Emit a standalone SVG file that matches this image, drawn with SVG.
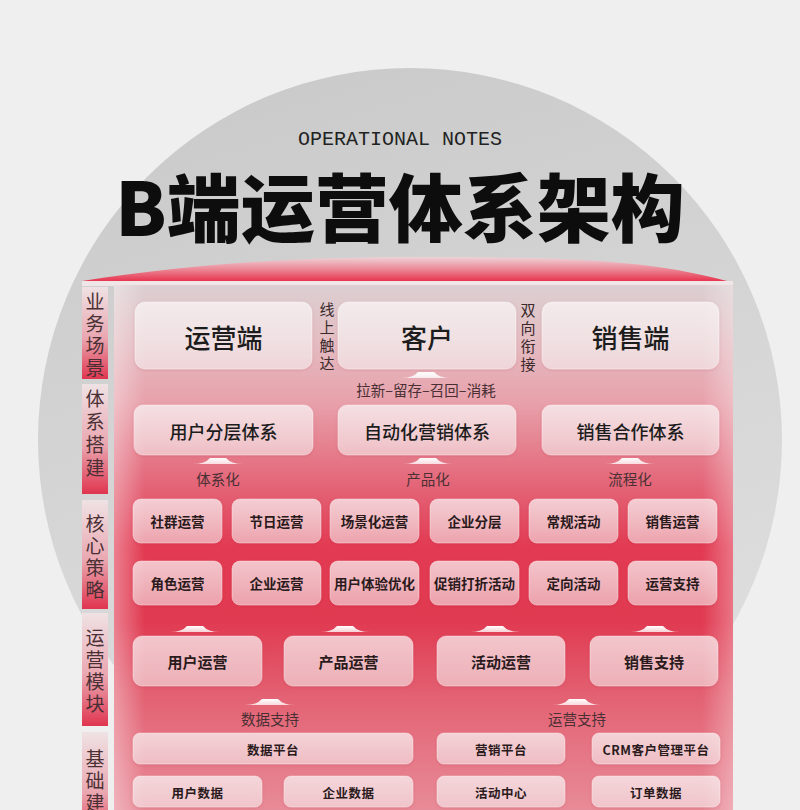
<svg xmlns="http://www.w3.org/2000/svg" width="800" height="810" viewBox="0 0 800 810">
<defs>
<linearGradient id="gCircle" x1="0" y1="0" x2="0.3" y2="1">
<stop offset="0" stop-color="#c8c8c8"/>
<stop offset="0.6" stop-color="#d6d6d6"/>
<stop offset="1" stop-color="#dedede"/>
</linearGradient>
<linearGradient id="gRoof" x1="0" y1="257" x2="0" y2="281" gradientUnits="userSpaceOnUse">
<stop offset="0" stop-color="#eed3d7"/>
<stop offset="0.5" stop-color="#ec8a98"/>
<stop offset="1" stop-color="#e6354f"/>
</linearGradient>
<linearGradient id="gPanel" x1="0" y1="285" x2="0" y2="810" gradientUnits="userSpaceOnUse">
<stop offset="0" stop-color="#dccfd1"/>
<stop offset="0.09" stop-color="#e3c0c5"/>
<stop offset="0.22" stop-color="#e8a2ac"/>
<stop offset="0.37" stop-color="#e4697b"/>
<stop offset="0.5" stop-color="#e23a52"/>
<stop offset="0.64" stop-color="#e03a51"/>
<stop offset="0.79" stop-color="#e36374"/>
<stop offset="1" stop-color="#e88b98"/>
</linearGradient>
<linearGradient id="gPanelSide" x1="0" y1="0" x2="1" y2="0">
<stop offset="0" stop-color="#ffffff" stop-opacity="0.35"/>
<stop offset="0.05" stop-color="#ffffff" stop-opacity="0"/>
<stop offset="0.95" stop-color="#ffffff" stop-opacity="0"/>
<stop offset="1" stop-color="#ffffff" stop-opacity="0.3"/>
</linearGradient>
<linearGradient id="gSide" x1="0" y1="0" x2="0" y2="1">
<stop offset="0" stop-color="#efe2e4"/>
<stop offset="0.55" stop-color="#eaa7b1"/>
<stop offset="1" stop-color="#e0354f"/>
</linearGradient>
<linearGradient id="gBox" x1="0" y1="0" x2="0" y2="1">
<stop offset="0" stop-color="#ffffff" stop-opacity="0.68"/>
<stop offset="1" stop-color="#ffffff" stop-opacity="0.5"/>
</linearGradient>
<linearGradient id="gArrow" x1="0" y1="0" x2="0" y2="1">
<stop offset="0" stop-color="#ffffff" stop-opacity="1"/>
<stop offset="1" stop-color="#ffffff" stop-opacity="0.75"/>
</linearGradient>
<filter id="shadow" x="-10%" y="-20%" width="120%" height="150%">
<feDropShadow dx="0" dy="1" stdDeviation="1.5" flood-color="#9a1f32" flood-opacity="0.25"/>
</filter>
<path id="arrow" d="M-25,6 Q-13,6 -8,0 L8,0 Q13,6 25,6 Z"/>
</defs>
<style>
.box{fill:url(#gBox);stroke:#ffffff;stroke-opacity:0.35;stroke-width:1;filter:url(#shadow);}
.side{fill:url(#gSide);}
.sidet{font-family:'Noto Sans CJK SC',sans-serif;font-size:19px;fill:#4a3034;writing-mode:vertical-rl;letter-spacing:3px;}
.t1{font-family:'Noto Sans CJK SC',sans-serif;font-size:26px;font-weight:500;fill:#1c1c1c;text-anchor:middle;dominant-baseline:central;}
.t2{font-family:'Noto Sans CJK SC',sans-serif;font-size:18px;font-weight:500;fill:#1c1c1c;text-anchor:middle;dominant-baseline:central;}
.t3{font-family:'Noto Sans CJK SC',sans-serif;font-size:13.5px;font-weight:700;fill:#2a1a1c;text-anchor:middle;dominant-baseline:central;}
.t5{font-family:'Noto Sans CJK SC',sans-serif;font-size:15px;font-weight:700;fill:#2a1a1c;text-anchor:middle;dominant-baseline:central;}
.t6{font-family:'Noto Sans CJK SC',sans-serif;font-size:12.5px;font-weight:700;fill:#2a1a1c;text-anchor:middle;dominant-baseline:central;letter-spacing:0.5px;}
.lab{font-family:'Noto Sans CJK SC',sans-serif;font-size:14.5px;fill:#4a3034;text-anchor:middle;dominant-baseline:central;}
.vlab{font-family:'Noto Sans CJK SC',sans-serif;font-size:15px;fill:#3a2a2c;writing-mode:vertical-rl;letter-spacing:3px;}
.arr{fill:url(#gArrow);}
</style>

<rect x="0" y="0" width="800" height="810" fill="#efefef"/>
<circle cx="410" cy="440" r="372" fill="url(#gCircle)"/>

<g id="header">
<text x="400" y="145" font-family="'Liberation Mono','DejaVu Sans Mono',monospace" font-size="20" fill="#222222" text-anchor="middle">OPERATIONAL NOTES</text>
<text x="400" y="236" font-family="'Noto Sans CJK SC','Noto Sans',sans-serif" font-size="74" font-weight="900" fill="#0d0d0d" text-anchor="middle">B端运营体系架构</text>
</g>

<g id="frame">
<path d="M82,281 C200,263 300,257 420,257 C560,257 645,259 727,281 Z" fill="url(#gRoof)"/>
<rect x="82" y="281" width="651" height="5" fill="#f0e5e7"/>
<rect x="114" y="285" width="619" height="530" fill="url(#gPanel)"/>
<rect x="114" y="285" width="619" height="530" fill="url(#gPanelSide)"/>
</g>

<g id="sidebar">
<g id="side-1"><rect class="side" x="82" y="287" width="26" height="92"/>
<text class="sidet" x="95" y="292">业务场景</text></g>
<g id="side-2"><rect class="side" x="82" y="384" width="26" height="110"/>
<text class="sidet" x="95" y="389" style="letter-spacing:4px">体系搭建</text></g>
<g id="side-3"><rect class="side" x="82" y="500" width="26" height="109"/>
<text class="sidet" x="95" y="514">核心策略</text></g>
<g id="side-4"><rect class="side" x="82" y="613" width="26" height="113"/>
<text class="sidet" x="95" y="628">运营模块</text></g>
<g id="side-5"><rect class="side" x="82" y="732" width="26" height="110"/>
<text class="sidet" x="95" y="749">基础建</text></g>
</g>

<g id="connectors">
<use href="#arrow" class="arr" x="426" y="372"/>
<use href="#arrow" class="arr" x="218" y="458"/>
<use href="#arrow" class="arr" x="428" y="458"/>
<use href="#arrow" class="arr" x="630" y="458"/>
<use href="#arrow" class="arr" x="195" y="626"/>
<use href="#arrow" class="arr" x="345" y="626"/>
<use href="#arrow" class="arr" x="495" y="626"/>
<use href="#arrow" class="arr" x="655" y="626"/>
<use href="#arrow" class="arr" x="270" y="699"/>
<use href="#arrow" class="arr" x="577" y="699"/>
<text class="vlab" x="327" y="302">线上触达</text>
<text class="vlab" x="528" y="303">双向衔接</text>
<text class="lab" x="426" y="389">拉新–留存–召回–消耗</text>
<text class="lab" x="218" y="478">体系化</text>
<text class="lab" x="428" y="478">产品化</text>
<text class="lab" x="630" y="478">流程化</text>
<text class="lab" x="270" y="718">数据支持</text>
<text class="lab" x="577" y="718">运营支持</text>
</g>

<g id="n-yunyingduan"><rect class="box" x="135" y="302" width="177" height="67" rx="10"/><text class="t1" x="223.5" y="336">运营端</text></g>
<g id="n-kehu"><rect class="box" x="338" y="302" width="178" height="67" rx="10"/><text class="t1" x="427" y="336">客户</text></g>
<g id="n-xiaoshouduan"><rect class="box" x="542" y="302" width="177" height="67" rx="10"/><text class="t1" x="630.5" y="336">销售端</text></g>

<g id="n-yonghufenceng"><rect class="box" x="134" y="405" width="179" height="50" rx="9"/><text class="t2" x="223.5" y="431">用户分层体系</text></g>
<g id="n-zidonghua"><rect class="box" x="338" y="405" width="178" height="50" rx="9"/><text class="t2" x="427" y="431">自动化营销体系</text></g>
<g id="n-xiaoshouhezuo"><rect class="box" x="542" y="405" width="177" height="50" rx="9"/><text class="t2" x="630.5" y="431">销售合作体系</text></g>

<g id="n-shequn"><rect class="box" x="133" y="499" width="89" height="44" rx="8"/><text class="t3" x="177.5" y="521">社群运营</text></g>
<g id="n-jieri"><rect class="box" x="232" y="499" width="89" height="44" rx="8"/><text class="t3" x="276.5" y="521">节日运营</text></g>
<g id="n-changjinghua"><rect class="box" x="330" y="499" width="89" height="44" rx="8"/><text class="t3" x="374.5" y="521">场景化运营</text></g>
<g id="n-qiyefenceng"><rect class="box" x="430" y="499" width="89" height="44" rx="8"/><text class="t3" x="474.5" y="521">企业分层</text></g>
<g id="n-changgui"><rect class="box" x="529" y="499" width="89" height="44" rx="8"/><text class="t3" x="573.5" y="521">常规活动</text></g>
<g id="n-xiaoshouyunying"><rect class="box" x="628" y="499" width="89" height="44" rx="8"/><text class="t3" x="672.5" y="521">销售运营</text></g>

<g id="n-juese"><rect class="box" x="133" y="561" width="89" height="44" rx="8"/><text class="t3" x="177.5" y="583">角色运营</text></g>
<g id="n-qiyeyunying"><rect class="box" x="232" y="561" width="89" height="44" rx="8"/><text class="t3" x="276.5" y="583">企业运营</text></g>
<g id="n-tiyan"><rect class="box" x="330" y="561" width="89" height="44" rx="8"/><text class="t3" x="374.5" y="583">用户体验优化</text></g>
<g id="n-cuxiao"><rect class="box" x="430" y="561" width="89" height="44" rx="8"/><text class="t3" x="474.5" y="583">促销打折活动</text></g>
<g id="n-dingxiang"><rect class="box" x="529" y="561" width="89" height="44" rx="8"/><text class="t3" x="573.5" y="583">定向活动</text></g>
<g id="n-yunyingzhichi"><rect class="box" x="628" y="561" width="89" height="44" rx="8"/><text class="t3" x="672.5" y="583">运营支持</text></g>

<g id="n-yonghuyunying"><rect class="box" x="133" y="636" width="129" height="50" rx="9"/><text class="t5" x="197.5" y="661">用户运营</text></g>
<g id="n-chanpinyunying"><rect class="box" x="284" y="636" width="129" height="50" rx="9"/><text class="t5" x="348.5" y="661">产品运营</text></g>
<g id="n-huodongyunying"><rect class="box" x="437" y="636" width="128" height="50" rx="9"/><text class="t5" x="501" y="661">活动运营</text></g>
<g id="n-xiaoshouzhichi"><rect class="box" x="590" y="636" width="128" height="50" rx="9"/><text class="t5" x="654" y="661">销售支持</text></g>

<g id="n-shujupingtai"><rect class="box" x="133" y="733" width="280" height="31" rx="7"/><text class="t6" x="273" y="749">数据平台</text></g>
<g id="n-yingxiaopingtai"><rect class="box" x="437" y="733" width="128" height="31" rx="7"/><text class="t6" x="501" y="749">营销平台</text></g>
<g id="n-crm"><rect class="box" x="592" y="733" width="128" height="31" rx="7"/><text class="t6" x="656" y="749">CRM客户管理平台</text></g>

<g id="n-yonghushuju"><rect class="box" x="133" y="776" width="129" height="31" rx="7"/><text class="t6" x="197.5" y="792">用户数据</text></g>
<g id="n-qiyeshuju"><rect class="box" x="284" y="776" width="129" height="31" rx="7"/><text class="t6" x="348.5" y="792">企业数据</text></g>
<g id="n-huodongzhongxin"><rect class="box" x="437" y="776" width="128" height="31" rx="7"/><text class="t6" x="501" y="792">活动中心</text></g>
<g id="n-dingdanshuju"><rect class="box" x="592" y="776" width="128" height="31" rx="7"/><text class="t6" x="656" y="792">订单数据</text></g>
</svg>
